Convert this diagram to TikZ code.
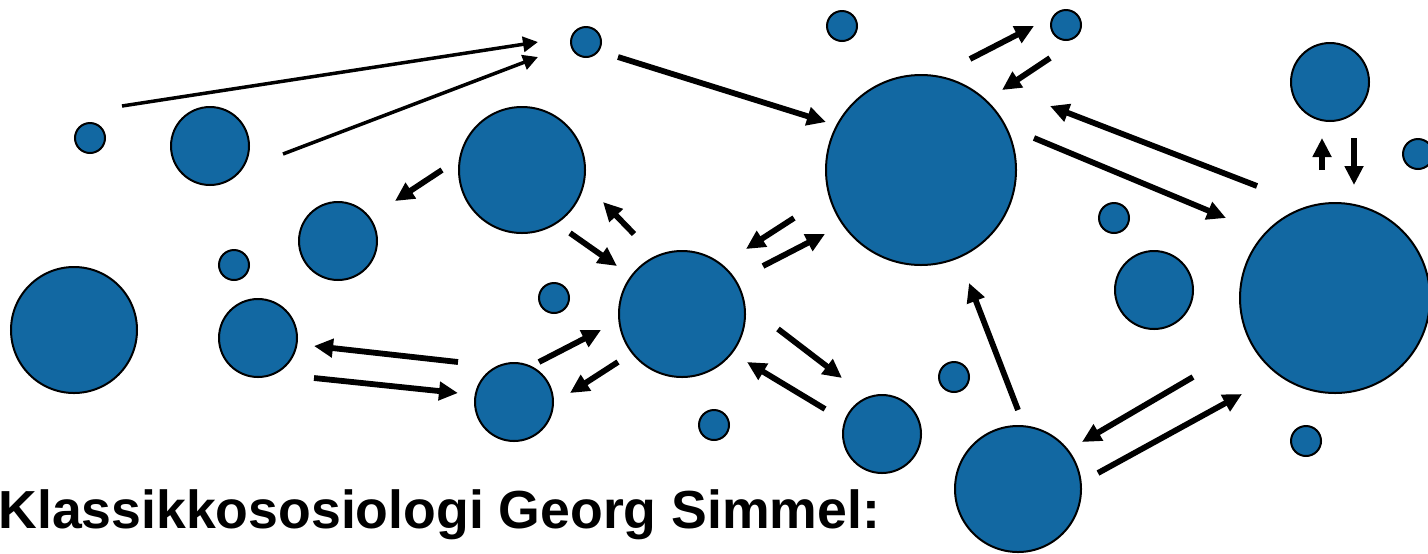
\documentclass[tikz,border=0pt]{standalone}
\usepackage{fontspec}
\setmainfont{Liberation Sans}
\usetikzlibrary{arrows.meta}
\definecolor{simblue}{RGB}{18,104,162}
\tikzset{
  dot/.style={circle, draw=black, line width=1pt, fill=simblue, inner sep=0pt, minimum size=#1},
  tiny/.style={dot=15pt},
  small/.style={dot=39pt},
  mid/.style={dot=63pt},
  large/.style={dot=95pt},
  thick arrow/.style={line width=2.9pt, -{Triangle[length=9.5pt,width=9pt]}},
  thin arrow/.style={line width=1.75pt, -{Triangle[length=7.5pt,width=7.5pt]}},
  title/.style={anchor=base west, inner sep=0pt, font=\fontsize{26.8pt}{30pt}\selectfont\bfseries}
}
\begin{document}
\begin{tikzpicture}[x=0.5pt,y=-0.5pt]
\useasboundingbox (0,0) rectangle (1428,553);
% circles
\node[tiny]  (c1)  at (90,138) {};
\node[small] (c2)  at (210,146) {};
\node[tiny]  (c3)  at (586,42) {};
\node[tiny]  (c4)  at (842,26) {};
\node[tiny]  (c5)  at (1066,25) {};
\node[large] (c6)  at (921,170) {};
\node[small] (c7)  at (1330,82) {};
\node[tiny]  (c8)  at (1418,154) {};
\node[mid]   (c9)  at (522,170) {};
\node[small] (c10) at (338,241) {};
\node[tiny]  (c11) at (234,265) {};
\node[mid]   (c12) at (74,330) {};
\node[small] (c13) at (258,338) {};
\node[tiny]  (c14) at (554,298) {};
\node[mid]   (c15) at (682,314) {};
\node[small] (c16) at (514,402) {};
\node[tiny]  (c17) at (714,425) {};
\node[small] (c18) at (882,434) {};
\node[tiny]  (c19) at (954,377) {};
\node[mid]   (c20) at (1018,489) {};
\node[tiny]  (c21) at (1114,218) {};
\node[small] (c22) at (1154,290) {};
\node[large] (c23) at (1335,298) {};
\node[tiny]  (c24) at (1306,441) {};
% arrow end points
\coordinate (a1s) at (122,106);  \coordinate (a1e) at (538,42);
\coordinate (a2s) at (283,154);  \coordinate (a2e) at (538,57);
\coordinate (a3s) at (618,57);   \coordinate (a3e) at (826,122);
\coordinate (a4s) at (442,170);  \coordinate (a4e) at (395,201);
\coordinate (a5s) at (634,234);  \coordinate (a5e) at (603,202);
\coordinate (a6s) at (570,233);  \coordinate (a6e) at (617,266);
\coordinate (a7s) at (970,59);   \coordinate (a7e) at (1034,26);
\coordinate (a8s) at (1050,58);  \coordinate (a8e) at (1002,90);
\coordinate (a9s) at (1257,186); \coordinate (a9e) at (1050,106);
\coordinate (a10s) at (1034,138); \coordinate (a10e) at (1226,218);
\coordinate (a11s) at (1322,170); \coordinate (a11e) at (1322,138);
\coordinate (a12s) at (1354,138); \coordinate (a12e) at (1354,185);
\coordinate (a13s) at (794,218);  \coordinate (a13e) at (746,249);
\coordinate (a14s) at (763,266);  \coordinate (a14e) at (825,234);
\coordinate (a15s) at (458,362);  \coordinate (a15e) at (314,346);
\coordinate (a16s) at (314,378);  \coordinate (a16e) at (458,393);
\coordinate (a17s) at (539,362);  \coordinate (a17e) at (601,330);
\coordinate (a18s) at (618,362);  \coordinate (a18e) at (570,393);
\coordinate (a19s) at (778,329);  \coordinate (a19e) at (842,378);
\coordinate (a20s) at (825,409);  \coordinate (a20e) at (747,362);
\coordinate (a21s) at (1018,410); \coordinate (a21e) at (969,283);
\coordinate (a22s) at (1193,377); \coordinate (a22e) at (1082,442);
\coordinate (a23s) at (1098,473); \coordinate (a23e) at (1242,394);
% arrows
\draw[thin arrow] (a1s) -- (a1e);
\draw[thin arrow] (a2s) -- (a2e);
\foreach \i in {3,...,23} {\draw[thick arrow] (a\i s) -- (a\i e);}
% title
\node[title] (t) at (-2,528) {Klassikkososiologi Georg Simmel:};
\end{tikzpicture}
\end{document}
